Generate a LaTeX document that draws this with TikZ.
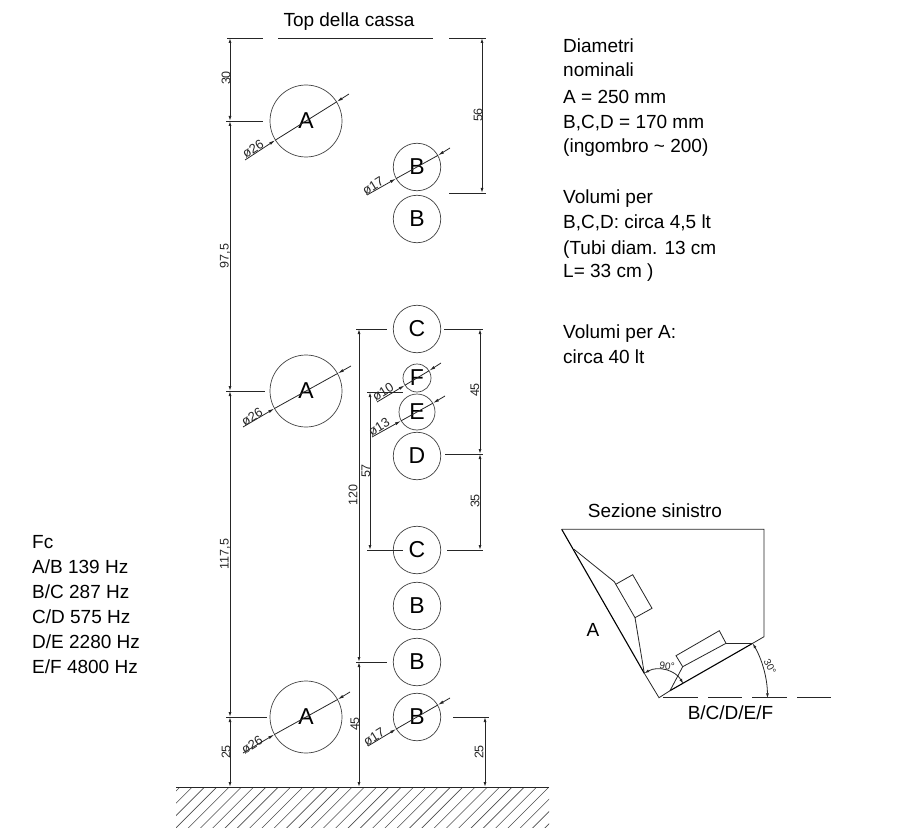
\documentclass[tikz,border=0pt]{standalone}
\usepackage{fontspec}
\setmainfont{Liberation Sans}
\usetikzlibrary{arrows.meta}
\tikzset{
  x=1pt,y=-1pt,
  line/.style={line width=.8pt,black!85},
  heavy/.style={line width=1.1pt,black},
  dimm/.style={line width=.9pt,black!85,{Latex[length=5pt,width=3pt]}-{Latex[length=5pt,width=3pt]}},
  lead/.style={line width=.8pt,black!85,-{Latex[length=6pt,width=3pt]}},
  spk/.style={circle,draw=black!75,line width=.7pt,inner sep=0pt,font=\fontsize{23}{25}\selectfont},
  bigspk/.style={spk,minimum size=72pt},
  midspk/.style={spk,minimum size=47.5pt},
  dimtxt/.style={inner sep=0pt,rotate=90,text=black!85,font=\fontsize{12.5}{14}\selectfont},
  diatxt/.style={inner sep=0pt,rotate=32,text=black!85,font=\fontsize{13}{14}\selectfont},
  note/.style={inner sep=0pt,anchor=base west,font=\fontsize{19}{22}\selectfont},
  lab/.style={inner sep=0pt,anchor=base,font=\fontsize{19}{22}\selectfont},
  small/.style={inner sep=0pt,text=black!85,font=\fontsize{10}{12}\selectfont},
}
\begin{document}
\begin{tikzpicture}
\useasboundingbox (0,0) rectangle (900,840);
% hatched ground
\begin{scope}
\clip (176,787) rectangle (549,827);
\foreach \i in {0,...,36}{\draw[line width=.6pt,black!70] ({180+\i*12.3},787) -- ({180+\i*12.3-42},829);}
\end{scope}
\coordinate (g0) at (176,787); \coordinate (g1) at (549,787);
\draw[line width=1pt,black!85] (g0) -- (g1);
% speakers
\node[bigspk] (A1) at (306,121) {A};
\node[bigspk] (A2) at (306,391) {A};
\node[bigspk] (A3) at (306,717) {A};
\node[midspk] (B1) at (417,167) {B};
\node[midspk] (B2) at (417,219) {B};
\node[midspk] (C1) at (417,329) {C};
\node[spk,minimum size=28pt] (F) at (417,378) {F};
\node[spk,minimum size=36pt] (E) at (417,412) {E};
\node[midspk] (D) at (417,456) {D};
\node[midspk] (C2) at (417,550) {C};
\node[midspk] (B3) at (417,606) {B};
\node[midspk] (B4) at (417,662) {B};
\node[midspk] (B5) at (417,717) {B};
% top line
\coordinate (t0) at (227,38); \coordinate (t1) at (263,38);
\coordinate (t2) at (278,38); \coordinate (t3) at (433,38);
\coordinate (t4) at (449,38); \coordinate (t5) at (486,38);
\draw[line] (t0)--(t1) (t2)--(t3) (t4)--(t5);
% ticks
\coordinate (a1a) at (226,121); \coordinate (a1b) at (263,121);
\coordinate (a2a) at (226,391); \coordinate (a2b) at (265,391);
\coordinate (a3a) at (226,717); \coordinate (a3b) at (267,717);
\draw[line] (a1a)--(a1b) (a2a)--(a2b) (a3a)--(a3b);
\coordinate (b1a) at (449,193); \coordinate (b1b) at (486,193);
\coordinate (c1a) at (356,329); \coordinate (c1b) at (387,329);
\coordinate (c1c) at (444,329); \coordinate (c1d) at (483,329);
\coordinate (fa) at (367,392); \coordinate (fb) at (403,392);
\coordinate (da) at (445,454); \coordinate (db) at (483,454);
\coordinate (c2a) at (367,550); \coordinate (c2b) at (403,550);
\coordinate (c2c) at (447,550); \coordinate (c2d) at (483,550);
\coordinate (b4a) at (356,662); \coordinate (b4b) at (387,662);
\coordinate (b5a) at (453,717); \coordinate (b5b) at (489,717);
\draw[line] (b1a)--(b1b) (c1a)--(c1b) (c1c)--(c1d) (fa)--(fb) (da)--(db)
  (c2a)--(c2b) (c2c)--(c2d) (b4a)--(b4b) (b5a)--(b5b);
% dimension lines
\coordinate (l0) at (230,38); \coordinate (l1) at (230,121); \coordinate (l2) at (230,391);
\coordinate (l3) at (230,717); \coordinate (l4) at (230,787);
\draw[dimm] (l0)--(l1); \draw[dimm] (l1)--(l2); \draw[dimm] (l2)--(l3); \draw[dimm] (l3)--(l4);
\coordinate (m0) at (482,38); \coordinate (m1) at (482,193);
\draw[dimm] (m0)--(m1);
\coordinate (n0) at (359,329); \coordinate (n1) at (359,662); \coordinate (n2) at (359,787);
\draw[dimm] (n0)--(n1); \draw[dimm] (n1)--(n2);
\coordinate (o0) at (370,392); \coordinate (o1) at (370,550);
\draw[dimm] (o0)--(o1);
\coordinate (p0) at (480,329); \coordinate (p1) at (480,454); \coordinate (p2) at (480,550);
\draw[dimm] (p0)--(p1); \draw[dimm] (p1)--(p2);
\coordinate (q0) at (485,717); \coordinate (q1) at (485,787);
\draw[dimm] (q0)--(q1);
% dimension labels
\node[dimtxt] (d30) at (226,78) {30};
\node[dimtxt] (d975) at (225,256) {97,5};
\node[dimtxt] (d1175) at (225,554) {117,5};
\node[dimtxt] (d25a) at (226,752) {25};
\node[dimtxt] (d56) at (478,115) {56};
\node[dimtxt] (d45a) at (475,390) {45};
\node[dimtxt] (d35) at (475,501) {35};
\node[dimtxt] (d120) at (353,495) {120};
\node[dimtxt] (d57) at (366,471) {57};
\node[dimtxt] (d45b) at (355,724) {45};
\node[dimtxt] (d25b) at (479,752) {25};
% diameter leaders
\coordinate (la1) at (245,160); \coordinate (lb1) at (349,94);
\draw[lead] (la1)--(A1.212); \draw[lead] (lb1)--(A1.32); \draw[line] (A1.212)--(A1.32);
\coordinate (la2) at (243,427); \coordinate (lb2) at (351,366);
\draw[lead] (la2)--(A2.209); \draw[lead] (lb2)--(A2.29); \draw[line] (A2.209)--(A2.29);
\coordinate (la3) at (243,753); \coordinate (lb3) at (350,692);
\draw[lead] (la3)--(A3.209); \draw[lead] (lb3)--(A3.29); \draw[line] (A3.209)--(A3.29);
\coordinate (la4) at (367,195); \coordinate (lb4) at (450,148);
\draw[lead] (la4)--(B1.209); \draw[lead] (lb4)--(B1.29); \draw[line] (B1.209)--(B1.29);
\coordinate (la5) at (368,746); \coordinate (lb5) at (450,698);
\draw[lead] (la5)--(B5.210); \draw[lead] (lb5)--(B5.30); \draw[line] (B5.210)--(B5.30);
\coordinate (la6) at (377,402); \coordinate (lb6) at (441,363);
\draw[lead] (la6)--(F.211); \draw[lead] (lb6)--(F.31); \draw[line] (F.211)--(F.31);
\coordinate (la7) at (372,437); \coordinate (lb7) at (445,396);
\draw[lead] (la7)--(E.209); \draw[lead] (lb7)--(E.29); \draw[line] (E.209)--(E.29);
\node[diatxt] (x1) at (253,149) {ø26};
\node[diatxt] (x2) at (252,417) {ø26};
\node[diatxt] (x3) at (252,745) {ø26};
\node[diatxt] (x4) at (373,186) {ø17};
\node[diatxt] (x5) at (374,737) {ø17};
\node[diatxt] (x6) at (383,392) {ø10};
\node[diatxt] (x7) at (379,427) {ø13};
% section
\coordinate (s1) at (561.7,529.3); \coordinate (s2) at (764,529.3); \coordinate (s3) at (764,636.7);
\coordinate (s4) at (752.7,643.3); \coordinate (s5) at (670,690.7); \coordinate (s6) at (659,697.7);
\coordinate (s7) at (644.3,673.3);
\coordinate (i1) at (574,549.3); \coordinate (i2) at (614.3,581.7); \coordinate (i3) at (635,617.7);
\coordinate (r1) at (615.7,584.3); \coordinate (r2) at (632.7,574.7); \coordinate (r3) at (652,608.3);
\coordinate (u1) at (676,655.7); \coordinate (u2) at (719.3,630.7); \coordinate (u3) at (726,643.3); \coordinate (u4) at (682.7,666.7);
\draw[line] (s1)--(s2)--(s3)--(s4);
\draw[heavy] (s4)--(s5);
\draw[line] (s5)--(s6)--(s7);
\draw[heavy] (s7)--(s1);
\draw[line] (i1)--(i2)--(i3)--(s7);
\draw[line] (r1)--(r2)--(r3)--(i3);
\draw[line] (u1)--(u2)--(u3)--(u4)--cycle;
\draw[line] (u3)--(s4);
\draw[line] (u4)--(s5);
\coordinate (k1) at (663,697.7); \coordinate (k2) at (698,697.7);
\coordinate (k3) at (708,697.7); \coordinate (k4) at (742,697.7);
\coordinate (k5) at (752,697.7); \coordinate (k6) at (787,697.7);
\coordinate (k7) at (797,697.7); \coordinate (k8) at (831,697.7);
\draw[line] (k1)--(k2) (k3)--(k4) (k5)--(k6) (k7)--(k8);
\draw[line,{Latex[length=5pt,width=3pt]}-{Latex[length=5pt,width=3pt]}] (s7) arc[start angle=-120,end angle=-30,radius=28.5];
\draw[line,{Latex[length=5pt,width=3pt]}-{Latex[length=5pt,width=3pt]}] (s4) arc[start angle=-30,end angle=0,radius=110];
\node[small,rotate=-8] (a90) at (667,666) {90°};
\node[small,rotate=-62] (a30) at (770,667) {30°};
\node[lab] (sez) at (655,517) {Sezione sinistro};
\node[lab] (lA) at (593,636) {A};
\node[lab] (lB) at (730.5,719) {B/C/D/E/F};
\node[lab] (top) at (349,27) {Top della cassa};
% notes
\node[note] (n1t) at (563,53) {Diametri};
\node[note] (n2t) at (563,77) {nominali};
\node[note] (n3t) at (563,104) {A = 250 mm};
\node[note] (n4t) at (563,129) {B,C,D = 170 mm};
\node[note] (n5t) at (563,153) {(ingombro \textasciitilde{} 200)};
\node[note] (n6t) at (563,204) {Volumi per};
\node[note] (n7t) at (563,229) {B,C,D: circa 4,5 lt};
\node[note] (n8t) at (563,254) {(Tubi diam. 13 cm};
\node[note] (n9t) at (563,277) {L= 33 cm )};
\node[note] (n10t) at (563,338) {Volumi per A:};
\node[note] (n11t) at (563,363) {circa 40 lt};
\node[note] (f1) at (32,548) {Fc};
\node[note] (f2) at (32,573) {A/B 139 Hz};
\node[note] (f3) at (32,598) {B/C 287 Hz};
\node[note] (f4) at (32,623) {C/D 575 Hz};
\node[note] (f5) at (32,648) {D/E 2280 Hz};
\node[note] (f6) at (32,673) {E/F 4800 Hz};
\end{tikzpicture}
\end{document}
